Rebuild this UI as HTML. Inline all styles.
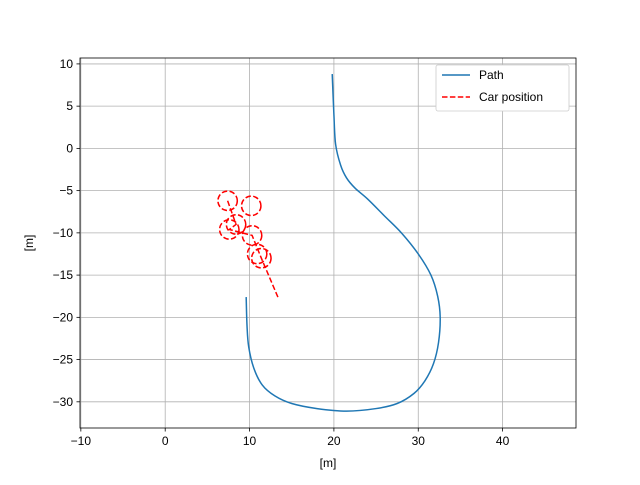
<!DOCTYPE html>
<html><head><meta charset="utf-8"><style>
body{margin:0;background:#fff}
svg text{font-family:"Liberation Sans","DejaVu Sans",sans-serif;font-size:12px;fill:#000}
</style></head><body>
<svg id="chart" width="640" height="480" xmlns="http://www.w3.org/2000/svg"></svg>
<script>
const xTicks=[-10,0,10,20,30,40];
const yTicks=[10,5,0,-5,-10,-15,-20,-25,-30];
const pathX=[19.8,20.0,20.2,20.8,21.5,22.5,24,26,28,30,31.5,32.3,32.6,32.4,31.8,30.8,29.5,27.5,25,21.5,18,15,13,11.5,10.5,9.9,9.7,9.6];
const pathY=[8.8,4,0.5,-2,-3.5,-4.7,-6,-8,-10,-12.5,-15,-17.5,-20,-23,-25.5,-27.5,-29,-30.2,-30.8,-31.1,-30.8,-30.2,-29.3,-28,-26,-23.5,-21,-17.6];
const carX=[7.4,10.2,8.4,7.6,10.3,10.9,11.4];
const carY=[-6.2,-6.8,-9.0,-9.6,-10.3,-12.5,-13.0];
const lineX=[7.4,8.4,7.6,10.3,11.4,13.4];
const lineY=[-6.2,-9.0,-9.6,-10.3,-13.0,-17.7];
const R=1.15;
const L=80,Rt=576,T=58,B=428,xmin=-10.1,xmax=48.7,ymin=-33.1,ymax=10.7;
const sx=v=>L+(v-xmin)/(xmax-xmin)*(Rt-L);
const sy=v=>B-(v-ymin)/(ymax-ymin)*(B-T);
const svg=document.getElementById('chart');
const NS='http://www.w3.org/2000/svg';
function mk(t,a,p){const e=document.createElementNS(NS,t);for(const k in a)e.setAttribute(k,a[k]);(p||svg).appendChild(e);return e;}
function smooth(xs,ys){const P=xs.map((x,i)=>[sx(x),sy(ys[i])]);let d='M'+P[0][0]+','+P[0][1];
for(let i=0;i<P.length-1;i++){const p0=P[Math.max(0,i-1)],p1=P[i],p2=P[i+1],p3=P[Math.min(P.length-1,i+2)];
d+=' C'+(p1[0]+(p2[0]-p0[0])/6)+','+(p1[1]+(p2[1]-p0[1])/6)+' '+(p2[0]-(p3[0]-p1[0])/6)+','+(p2[1]-(p3[1]-p1[1])/6)+' '+p2[0]+','+p2[1];}
return d;}
xTicks.forEach(v=>{const x=sx(v);
const g=mk('line',{x1:x,x2:x,y1:T,y2:B,stroke:'#b0b0b0','stroke-width':0.8});


mk('line',{x1:x,x2:x,y1:B,y2:B+3.5,stroke:'#000','stroke-width':0.8});
const t=mk('text',{x:x,y:B+17,'text-anchor':'middle'});t.textContent=(v<0?'\u2212'+(-v):v);

});
yTicks.forEach(v=>{const y=sy(v);
const g=mk('line',{x1:L,x2:Rt,y1:y,y2:y,stroke:'#b0b0b0','stroke-width':0.8});


mk('line',{x1:L-3.5,x2:L,y1:y,y2:y,stroke:'#000','stroke-width':0.8});
const t=mk('text',{x:L-7,y:y+4,'text-anchor':'end'});t.textContent=(v<0?'\u2212'+(-v):v);

});
const p=mk('path',{d:smooth(pathX,pathY),fill:'none',stroke:'#1f77b4','stroke-width':1.5});


const cl=mk('polyline',{points:lineX.map((x,i)=>sx(x)+','+sy(lineY[i])).join(' '),fill:'none',stroke:'red','stroke-width':1.5,'stroke-dasharray':'5.5,2.4'});


carX.forEach((x,i)=>{const c=mk('circle',{cx:sx(x),cy:sy(carY[i]),r:R*(Rt-L)/(xmax-xmin),fill:'none',stroke:'red','stroke-width':1.5,'stroke-dasharray':'5.5,2.4'});

});
const fr=mk('rect',{x:L,y:T,width:Rt-L,height:B-T,fill:'none',stroke:'#000','stroke-width':0.8});


const xl=mk('text',{x:(L+Rt)/2,y:467,'text-anchor':'middle'});xl.textContent='[m]';


const yl=mk('text',{x:33,y:(T+B)/2,'text-anchor':'middle',transform:'rotate(-90 33 '+(T+B)/2+')'});yl.textContent='[m]';


const lg=mk('g',{});


mk('rect',{x:436,y:65,width:133,height:46,rx:2,fill:'#fff',stroke:'#ccc','stroke-width':0.8},lg);
mk('line',{x1:442,x2:470,y1:75,y2:75,stroke:'#1f77b4','stroke-width':1.5},lg);
const t1=mk('text',{x:479,y:79},lg);t1.textContent='Path';


mk('line',{x1:442,x2:470,y1:97,y2:97,stroke:'red','stroke-width':1.5,'stroke-dasharray':'5.5,2.4'},lg);
const t2=mk('text',{x:479,y:101},lg);t2.textContent='Car position';


</script>
</body></html>
